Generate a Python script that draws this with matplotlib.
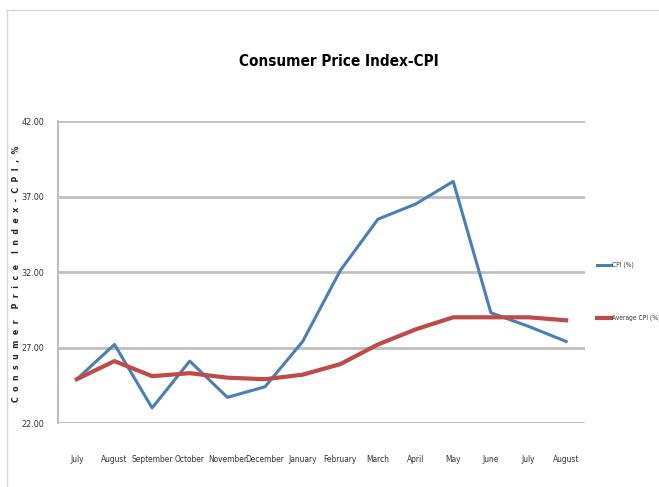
import matplotlib
matplotlib.use('Agg')
import matplotlib.pyplot as plt
from matplotlib.lines import Line2D
import numpy as np

plt.rcParams['font.family'] = ['DejaVu Sans']
plt.rcParams['font.stretch'] = 'condensed'

# ---------- Data ----------
months = ['July', 'August', 'September', 'October', 'November', 'December',
          'January', 'February', 'March', 'April', 'May', 'June', 'July', 'August']
cpi = [24.9, 27.2, 23.0, 26.1, 23.7, 24.4, 27.4, 32.1, 35.5, 36.5, 38.0, 29.3, 28.4, 27.4]
avg_cpi = [24.9, 26.1, 25.1, 25.3, 25.0, 24.9, 25.2, 25.9, 27.2, 28.2, 29.0, 29.0, 29.0, 28.8]
yticks = [22, 27, 32, 37, 42]

# ---------- Figure ----------
fig = plt.figure(figsize=(6.59, 4.87), dpi=100)
ax = fig.add_axes([58 / 659, 1 - 423 / 487, (585 - 58) / 659, (423 - 121) / 487])

x = np.arange(len(months))
ax.plot(x, cpi, color='#4a7ebb', linewidth=2.2, label='CPI (%)')
ax.plot(x, avg_cpi, color='#be4b48', linewidth=3.0, label='Average CPI (%)')

ax.set_xlim(-0.5, len(months) - 0.5)
ax.set_ylim(22, 42)
ax.set_yticks(yticks)
ax.set_yticklabels([f'{v:.2f}' for v in yticks], fontsize=6.5)
ax.set_xticks(x)
ax.set_xticklabels(months, fontsize=6)
ax.tick_params(axis='both', length=0, pad=10, colors='#333333')
ax.tick_params(axis='x', pad=23)
ax.grid(axis='y', color='#bfbfbf', linewidth=2)
ax.set_axisbelow(True)
for side in ['top', 'right', 'bottom']:
    ax.spines[side].set_visible(False)
ax.spines['left'].set_color('#bfbfbf')
ax.spines['left'].set_linewidth(1.5)

fig.text(339 / 659, 1 - 62 / 487, 'Consumer Price Index-CPI', ha='center', va='center',
         fontsize=11, fontweight='bold')
# letter-spaced axis title like the reference
ylabel = '    '.join('  '.join(word) for word in 'Consumer Price Index-CPI,%'.split())
fig.text(17 / 659, 1 - 274 / 487, ylabel,
         rotation=90, ha='center', va='center', fontsize=6.2, fontweight='bold',
         color='#222222')

# legend on the right
legend_labels = ['CPI (%)', 'Average CPI (%)']
legend_colors = ['#4a7ebb', '#be4b48']
legend_widths = [2.2, 3.0]
leg_y = [265, 318]
for lab, col, lw, yy in zip(legend_labels, legend_colors, legend_widths, leg_y):
    fig.add_artist(Line2D([597 / 659, 611 / 659], [1 - yy / 487] * 2, color=col, linewidth=lw))
    fig.text(612 / 659, 1 - yy / 487, lab, ha='left', va='center', fontsize=4.8,
             color='#333333')

# chart frame (left and top edges)
fig.add_artist(Line2D([7 / 659, 7 / 659], [0, 1 - 10 / 487], color='#d9d9d9', linewidth=1))
fig.add_artist(Line2D([7 / 659, 1], [1 - 10 / 487] * 2, color='#d9d9d9', linewidth=1))

fig.savefig('out.png', dpi=100)
